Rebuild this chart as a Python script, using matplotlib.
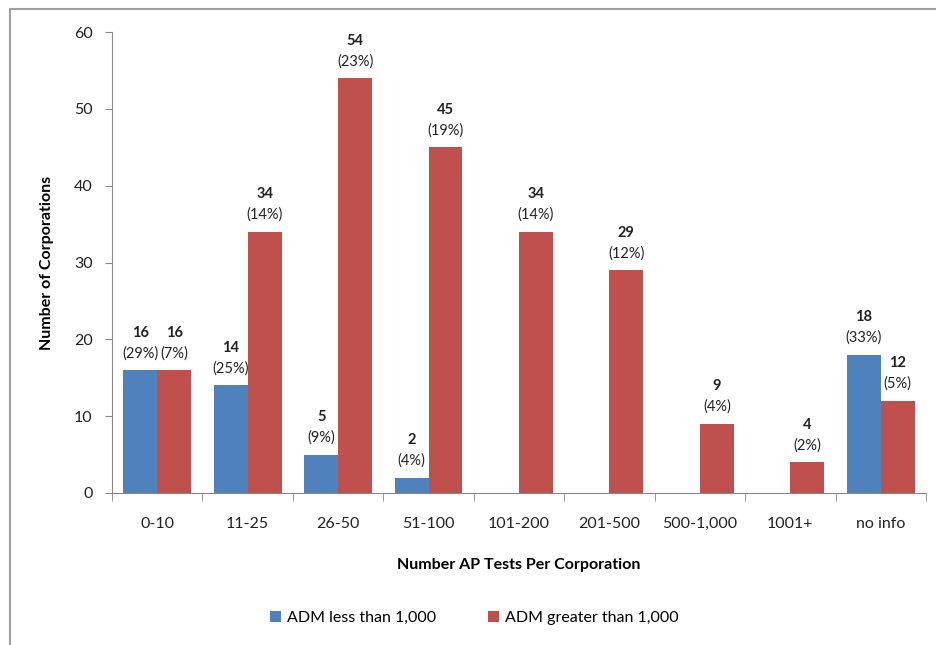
import matplotlib.pyplot as plt
import numpy as np
from matplotlib.patches import Rectangle

# values
categories = ["0-10", "11-25", "26-50", "51-100", "101-200", "201-500", "500-1,000", "1001+", "no info"]
adm_less = [16, 14, 5, 2, 0, 0, 0, 0, 18]
adm_less_pct = ["29%", "25%", "9%", "4%", None, None, None, None, "33%"]
adm_greater = [16, 34, 54, 45, 34, 29, 9, 4, 12]
adm_greater_pct = ["7%", "14%", "23%", "19%", "14%", "12%", "4%", "2%", "5%"]

blue = "#4F81BD"
red = "#C0504D"

plt.rcParams["font.family"] = ["Lato", "DejaVu Sans"]

fig = plt.figure(figsize=(9.36, 6.45), dpi=100)
ax = fig.add_axes([112 / 936, (645 - 493) / 645, 814 / 936, 461 / 645])

x = np.arange(len(categories))
w = 0.375
ax.bar(x - w / 2, adm_less, w, color=blue, label="ADM less than 1,000")
ax.bar(x + w / 2, adm_greater, w, color=red, label="ADM greater than 1,000")

def add_labels(offset, vals, pcts):
    for xi, v, p in zip(x, vals, pcts):
        if p is None:
            continue
        ax.annotate("(" + p + ")", (xi + offset, v), xytext=(0, 7), textcoords="offset points",
                    ha="center", va="bottom", fontsize=10.5, color="#222222")
        ax.annotate(str(v), (xi + offset, v), xytext=(0, 22), textcoords="offset points",
                    ha="center", va="bottom", fontsize=10.5, fontweight="bold", color="#222222")

add_labels(-w / 2, adm_less, adm_less_pct)
add_labels(w / 2, adm_greater, adm_greater_pct)

ax.set_xlim(-0.5, len(categories) - 0.5)
ax.set_ylim(0, 60)
ax.set_yticks(range(0, 61, 10))
ax.set_xticks(x)
ax.set_xticklabels(categories)
ax.set_xticks(np.arange(-0.5, len(categories), 1), minor=True)
ax.tick_params(axis="x", which="major", length=0, pad=17, labelsize=11.5, colors="#222222")
ax.tick_params(axis="x", which="minor", length=6, color="#888888")
ax.tick_params(axis="y", length=5, color="#888888", labelsize=11.5, labelcolor="#222222", pad=9)

for s in ["top", "right"]:
    ax.spines[s].set_visible(False)
for s in ["left", "bottom"]:
    ax.spines[s].set_color("#888888")

ax.set_xlabel("Number AP Tests Per Corporation", fontsize=11.5, fontweight="bold", labelpad=20)
ax.set_ylabel("Number of Corporations", fontsize=11.5, fontweight="bold", labelpad=14)

ax.legend(loc="upper center", bbox_to_anchor=(0.445, -0.225), ncol=2, frameon=False,
          fontsize=11.5, handlelength=0.7, handleheight=0.7, columnspacing=3.2, handletextpad=0.4)

# outer chart border (only top/left visible in reference)
fig.patches.append(Rectangle((10 / 936, -0.1), 1.2, (645 - 9) / 645 + 0.1, transform=fig.transFigure,
                             fill=False, edgecolor="#A0A0A0", linewidth=1.5))

fig.savefig("out.png", dpi=100)
